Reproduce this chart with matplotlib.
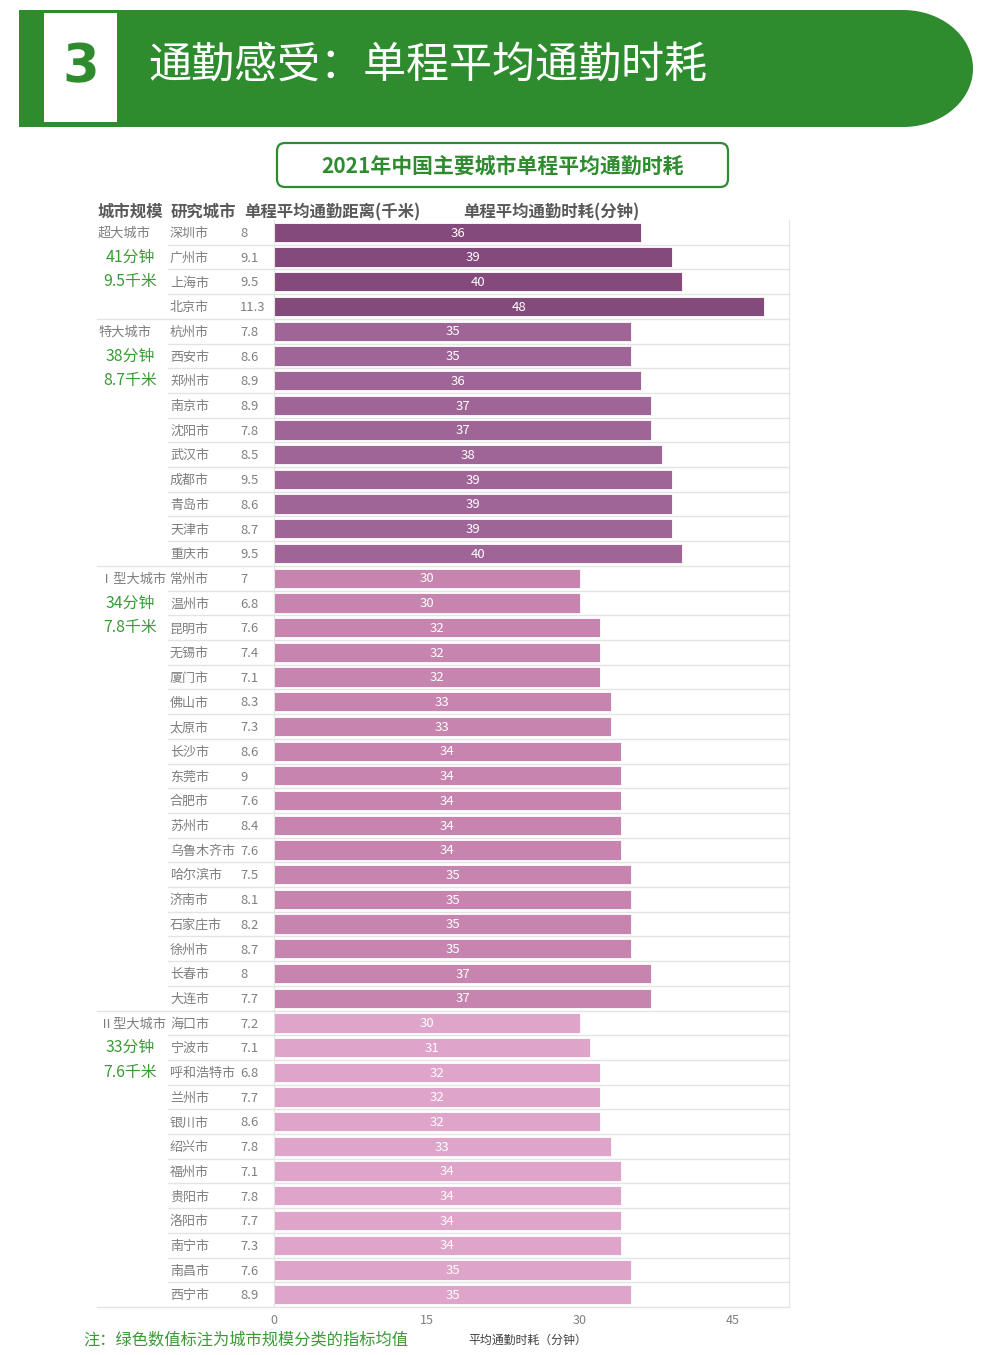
import matplotlib.pyplot as plt
from matplotlib.patches import FancyBboxPatch, Rectangle, PathPatch
from matplotlib.path import Path
from matplotlib.transforms import blended_transform_factory
import numpy as np

plt.rcParams['font.family'] = ['Noto Sans CJK SC', 'DejaVu Sans']

# data: four city-size groups
group_names = ["超大城市", "特大城市", "Ⅰ型大城市", "Ⅱ型大城市"]
group_minutes = ["41分钟", "38分钟", "34分钟", "33分钟"]
group_km = ["9.5千米", "8.7千米", "7.8千米", "7.6千米"]
group_colors = ["#834A7B", "#9E6596", "#C684AE", "#DFA4C9"]

super_cities = ["深圳市", "广州市", "上海市", "北京市"]
super_dist = ["8", "9.1", "9.5", "11.3"]
super_time = [36, 39, 40, 48]

mega_cities = ["杭州市", "西安市", "郑州市", "南京市", "沈阳市", "武汉市", "成都市", "青岛市", "天津市", "重庆市"]
mega_dist = ["7.8", "8.6", "8.9", "8.9", "7.8", "8.5", "9.5", "8.6", "8.7", "9.5"]
mega_time = [35, 35, 36, 37, 37, 38, 39, 39, 39, 40]

big1_cities = ["常州市", "温州市", "昆明市", "无锡市", "厦门市", "佛山市", "太原市", "长沙市", "东莞市",
               "合肥市", "苏州市", "乌鲁木齐市", "哈尔滨市", "济南市", "石家庄市", "徐州市", "长春市", "大连市"]
big1_dist = ["7", "6.8", "7.6", "7.4", "7.1", "8.3", "7.3", "8.6", "9",
             "7.6", "8.4", "7.6", "7.5", "8.1", "8.2", "8.7", "8", "7.7"]
big1_time = [30, 30, 32, 32, 32, 33, 33, 34, 34, 34, 34, 34, 35, 35, 35, 35, 37, 37]

big2_cities = ["海口市", "宁波市", "呼和浩特市", "兰州市", "银川市", "绍兴市", "福州市", "贵阳市", "洛阳市",
               "南宁市", "南昌市", "西宁市"]
big2_dist = ["7.2", "7.1", "6.8", "7.7", "8.6", "7.8", "7.1", "7.8", "7.7", "7.3", "7.6", "8.9"]
big2_time = [30, 31, 32, 32, 32, 33, 34, 34, 34, 34, 35, 35]

groups = [(super_cities, super_dist, super_time),
          (mega_cities, mega_dist, mega_time),
          (big1_cities, big1_dist, big1_time),
          (big2_cities, big2_dist, big2_time)]

W, H = 981, 1355
fig = plt.figure(figsize=(W / 100, H / 100), dpi=100)
fig.patch.set_facecolor('white')

green = "#2E8C2F"
text_green = "#3A9A35"
gray = "#7F7F7F"

# overlay axes in pixel coords for header and table text
ov = fig.add_axes([0, 0, 1, 1], zorder=0)
ov.set_xlim(0, W)
ov.set_ylim(H, 0)
ov.axis('off')

# green banner: square left end, rounded right end
cx, a, top, bot = 903, 70, 10, 127
b = (bot - top) / 2
cy = top + b
arc = [(cx + a * np.cos(tt), cy + b * np.sin(tt)) for tt in np.linspace(-np.pi / 2, np.pi / 2, 80)]
verts = [(19, top), (cx, top)] + arc + [(19, bot), (19, top)]
ov.add_patch(PathPatch(Path(verts), facecolor=green, edgecolor='none'))
ov.add_patch(Rectangle((44, 13), 73, 109, facecolor='white', edgecolor='none'))
ov.text(81, 67, "3", color=green, fontsize=38, fontweight='bold', ha='center', va='center',
        family=['DejaVu Sans'])
ov.text(148, 67, "通勤感受：单程平均通勤时耗", color='white', fontsize=31, fontweight='light',
        ha='left', va='center')

# subtitle box
ov.add_patch(FancyBboxPatch((277, 143), 451, 44, boxstyle="round,pad=0,rounding_size=8",
                            facecolor='white', edgecolor=green, linewidth=1.6))
ov.text(503, 166, "2021年中国主要城市单程平均通勤时耗", color=green, fontsize=15,
        fontweight='bold', ha='center', va='center')

# column headers
hdr_color = "#595959"
for x, s in [(98, "城市规模"), (171, "研究城市"), (244, "单程平均通勤距离(千米)"), (463, "单程平均通勤时耗(分钟)")]:
    ov.text(x, 212, s, color=hdr_color, fontsize=11.8, fontweight='bold', ha='left', va='center')

# main bar axes
ax_left, ax_right, ax_top, ax_bot = 274, 789, 220, 1307
ax = fig.add_axes([ax_left / W, 1 - ax_bot / H, (ax_right - ax_left) / W, (ax_bot - ax_top) / H], zorder=1)
ax.patch.set_alpha(0)

n_rows = sum(len(g[0]) for g in groups)
ax.set_xlim(0, 50.5)
ax.set_ylim(n_rows - 0.5, -0.5)

trans = blended_transform_factory(ov.transData, ax.transData)

row = 0
for gi, (cities, dists, times) in enumerate(groups):
    ys = np.arange(row, row + len(cities))
    ax.barh(ys, times, height=0.78, color=group_colors[gi], edgecolor='white', linewidth=0.6, zorder=2)
    for y, c, d, t in zip(ys, cities, dists, times):
        ax.text(t / 2, y + 0.03, str(t), color='white', fontsize=9.5, ha='center', va='center', zorder=3)
        ov.text(170, y + 0.05, c, transform=trans, color=gray, fontsize=9.4, ha='left', va='center')
        ov.text(240, y + 0.05, d, transform=trans, color=gray, fontsize=9.4, ha='left', va='center')
    # group labels
    ov.text(98 if gi < 2 else 100, row + 0.05, group_names[gi], transform=trans, color=gray, fontsize=9.5,
            ha='left', va='center')
    ov.text(130, row + 1, group_minutes[gi], transform=trans, color=text_green, fontsize=11.4,
            ha='center', va='center')
    ov.text(130, row + 2, group_km[gi], transform=trans, color=text_green, fontsize=11.4,
            ha='center', va='center')
    # row separators
    for y in ys:
        start = 97 if y == ys[-1] else 168
        ov.plot([start, ax_right], [y + 0.5, y + 0.5], transform=trans, color="#E4E4E4",
                linewidth=1.0, zorder=0.5, clip_on=False)
    row += len(cities)

ax.set_xticks([0, 15, 30, 45])
ax.tick_params(axis='x', length=0, labelsize=9, labelcolor=gray, pad=5)
ax.set_yticks([])
for side in ['top', 'bottom']:
    ax.spines[side].set_visible(False)
ax.spines['left'].set_color("#E4E4E4")
ax.spines['right'].set_color("#E4E4E4")

ov.text(528, 1340, "平均通勤时耗（分钟）", color="#404040", fontsize=8.6, ha='center', va='center')
ov.text(83, 1340, "注：绿色数值标注为城市规模分类的指标均值", color=text_green, fontsize=11.7,
        ha='left', va='center')

fig.savefig("out.png", dpi=100)
